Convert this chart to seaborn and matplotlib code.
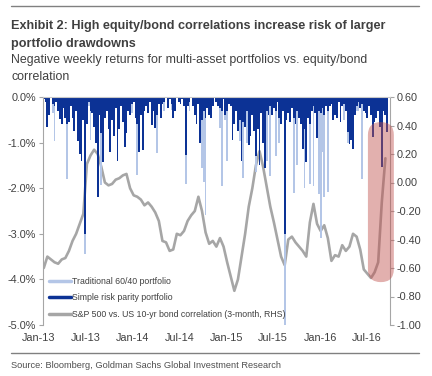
import pandas as pd
import matplotlib
matplotlib.use('Agg')
import matplotlib.pyplot as plt
import matplotlib.dates as mdates
from matplotlib.patches import FancyBboxPatch
from matplotlib.lines import Line2D
from matplotlib.ticker import FuncFormatter
from matplotlib.transforms import IdentityTransform, ScaledTranslation
import seaborn as sns

# weekly negative returns (%), positive weeks shown as 0
weeks = pd.date_range('2013-01-04', periods=192, freq='7D')
trad_6040 = [
    0.00, -0.05, -0.30, -0.20, 0.00, -0.35, -0.96, 0.00, -0.15, -0.25, -0.30, -0.10,
    -0.20, -1.80, -0.25, -0.10, -0.30, -0.35, -0.15, -0.40, -0.55, -0.60, -0.30, -3.45,
    -0.25, -0.20, -0.95, -0.15, -0.30, -0.45, -0.90, -0.20, -1.93, -0.60, -0.20, -0.10,
    -0.35, -0.50, -0.20, -0.35, -0.10, -0.60, -0.30, -0.15, -0.25, -0.45, -0.30, -0.10,
    -0.15, -0.35, -0.05, -0.20, -1.71, -0.50, -0.15, -0.45, -0.10, -0.10, -0.15, 0.00,
    -0.25, -0.15, -0.30, -1.23, -0.05, -0.20, -0.05, -0.30, 0.00, -0.10, 0.00, -0.28,
    -0.20, -0.10, 0.00, -0.05, -0.05, 0.00, -0.10, -1.90, -0.10, -0.30, 0.00, -0.10,
    -0.15, -0.25, -0.05, -0.96, -1.56, -1.86, -2.59, -0.10, -0.15, -0.20, -0.05, 0.00,
    -0.05, -0.10, -0.68, -1.95, 0.00, -0.50, -1.40, -0.05, -0.10, -0.40, -0.25, -0.10,
    -0.30, -0.96, -0.60, -1.78, -0.30, -1.00, -0.45, -0.35, -0.15, -0.30, -1.65, -0.30,
    -0.60, -0.15, -0.40, -0.65, -1.40, -0.15, -1.73, -0.15, -0.10, -1.30, -0.05, -1.00,
    -0.25, -0.10, -5.00, -0.20, -0.15, -0.20, -0.10, -2.10, -0.25, -1.50, -0.20, -0.25,
    -0.50, -2.00, -0.60, -0.20, -1.90, -0.10, -1.95, -0.15, -0.35, -2.13, -3.10, -1.20,
    -2.20, -0.10, -2.08, -0.10, -0.05, -0.20, -0.15, -0.20, -0.05, -0.25, -0.10, -0.50,
    -0.10, -1.00, -0.40, -0.40, -0.45, -0.15, -0.30, -0.30, -0.10, -1.80, -0.10, -0.15,
    -0.20, -0.10, -0.15, -0.35, -0.20, -0.20, -0.10, -0.25, -0.60, -0.10, -0.15, -0.30,
]
risk_parity = [
    -0.05, -0.10, -0.66, -0.40, 0.00, -0.15, -0.20, -0.10, -0.30, -0.48, -0.60, -0.25,
    -0.45, -0.60, -0.55, -0.20, -0.45, -0.75, -0.30, -0.96, -1.25, -1.40, -0.50, -3.00,
    -0.60, -0.10, -0.30, -0.35, -0.66, -1.00, -2.20, -0.40, -0.80, -1.42, -0.45, -0.30,
    -0.70, -1.20, -0.50, -0.85, -0.25, -1.40, -0.70, -0.20, -0.55, -1.10, -0.80, -0.30,
    -0.40, -0.15, -0.10, -0.45, -0.60, -1.20, -0.40, -1.17, -0.30, -0.20, -0.35, -0.10,
    -0.61, -0.30, -0.68, -0.40, -0.15, -0.45, -0.15, -0.10, 0.00, -0.25, -0.05, -0.15,
    -0.46, -0.30, 0.00, -0.10, -0.15, -0.05, -0.20, -1.27, -0.20, -0.10, 0.00, -0.20,
    -0.40, -0.60, -0.15, -1.00, -0.50, -0.30, -0.45, -0.25, -0.40, -0.46, -0.20, 0.00,
    -0.10, -0.20, -0.25, -0.30, -0.05, -0.40, -0.30, -0.15, -0.20, -0.95, -0.60, -0.30,
    -0.75, -0.50, -1.40, -0.55, -0.65, -0.30, -1.05, -0.85, -0.40, -0.75, -1.30, -0.70,
    -1.49, -0.35, -1.00, -1.56, -0.30, -0.40, -0.20, -0.40, -0.25, -0.30, -0.10, -0.45,
    -0.60, -0.30, -3.00, -0.50, -0.35, -0.55, -0.25, -0.45, -0.60, -0.30, -0.45, -0.60,
    -1.13, -0.70, -1.42, -0.45, -0.60, -0.30, -0.20, -0.35, -0.90, -0.30, -0.35, -0.25,
    -0.40, -0.20, -0.30, -0.20, -0.15, -0.50, -0.40, -0.45, -0.10, -0.55, -0.20, -0.15,
    -0.30, -0.76, -1.03, -0.94, -1.14, -0.40, -0.20, -0.10, -0.25, -0.15, -0.30, -0.35,
    -0.45, -0.20, -0.40, -0.87, -0.55, -0.45, -0.30, -0.65, -1.53, -0.30, -0.40, -0.76,
]

# S&P 500 vs US 10-yr bond correlation (3-month), read every two weeks
corr_dates = pd.date_range('2013-01-04', periods=96, freq='14D')
corr_3m = [
    -0.60, -0.52, -0.54, -0.56, -0.57, -0.54, -0.53, -0.48, -0.41, -0.36, -0.29, -0.22,
    0.13, 0.19, 0.23, 0.20, 0.11, 0.00, -0.02, -0.01, 0.02, 0.03, 0.05, 0.06,
    -0.04, -0.09, -0.10, -0.12, -0.16, -0.14, -0.17, -0.21, -0.27, -0.41, -0.42, -0.48,
    -0.47, -0.36, -0.37, -0.34, -0.27, -0.23, -0.20, -0.10, -0.20, -0.35, -0.43, -0.41,
    -0.45, -0.39, -0.45, -0.56, -0.66, -0.76, -0.68, -0.52, -0.36, -0.17, -0.04, 0.12,
    0.22, 0.11, -0.03, -0.17, -0.28, -0.40, -0.52, -0.58, -0.40, -0.38, -0.42, -0.45,
    -0.48, -0.52, -0.28, -0.15, -0.29, -0.34, -0.30, -0.39, -0.55, -0.51, -0.52, -0.44,
    -0.48, -0.45, -0.36, -0.38, -0.47, -0.61, -0.64, -0.67, -0.63, -0.56, -0.14, 0.17,
]

left_ticks = [0, -1, -2, -3, -4, -5]
right_ticks = [0.6, 0.4, 0.2, 0.0, -0.2, -0.4, -0.6, -0.8, -1.0]
labels = ['Traditional 60/40 portfolio', 'Simple risk parity portfolio',
          'S&P 500 vs. US 10-yr bond correlation (3-month, RHS)']

LIGHT = '#b4c6e7'
DARK = '#0c3295'
GREY = '#a6a6a6'
TXT = '#404040'

sns.set_style('white')
plt.rcParams['font.family'] = ['Liberation Sans', 'DejaVu Sans']

fig = plt.figure(figsize=(4.32, 3.76), dpi=100)
fig.subplots_adjust(left=43/432, right=390/432, bottom=1-325/376, top=1-97/376)
ax = fig.add_subplot(111)
ax2 = ax.twinx()


def fit_width(txt, target_px):
    # scale a text so that it spans the given width in pixels
    fig.canvas.draw()
    w = txt.get_window_extent(fig.canvas.get_renderer()).width
    txt.set_fontsize(txt.get_fontsize() * target_px / w)
    return txt.get_fontsize()


# correlation line on the right axis, drawn behind the bars
sns.lineplot(x=corr_dates, y=corr_3m, ax=ax2, color=GREY, linewidth=1.9, legend=False)

ax.bar(weeks, trad_6040, width=7, color=LIGHT, linewidth=0)
ax.bar(weeks, risk_parity, width=7, color=DARK, linewidth=0)

ax.set_zorder(ax2.get_zorder() + 1)
ax.patch.set_visible(False)

ax.set_xlim(pd.Timestamp('2013-01-01'), pd.Timestamp('2016-09-13'))
ax.set_ylim(-5, 0)
ax2.set_ylim(-1, 0.6)
ax.set_yticks(left_ticks)
ax2.set_yticks(right_ticks)
ax.yaxis.set_major_formatter(FuncFormatter(lambda v, p: f'{v:.1f}%'))
ax2.yaxis.set_major_formatter(FuncFormatter(lambda v, p: f'{v:.2f}'))
ax.xaxis.set_major_locator(mdates.MonthLocator(bymonth=[1, 7]))
ax.xaxis.set_major_formatter(mdates.DateFormatter('%b-%y'))
ax.set_xlabel('')
ax2.set_ylabel('')

for a in (ax, ax2):
    for s in a.spines.values():
        s.set_visible(False)
ax.spines['left'].set_visible(True)
ax.spines['left'].set_color(GREY)
ax.spines['top'].set_visible(True)
ax.spines['top'].set_color('#c8c8c8')
ax2.spines['right'].set_visible(True)
ax2.spines['right'].set_color(GREY)

ax.tick_params(axis='y', length=3, color=GREY, labelsize=7.8, labelcolor=TXT, pad=2, left=True)
ax2.tick_params(axis='y', length=3, color=GREY, labelsize=7.8, labelcolor=TXT, pad=2, right=True)
ax.tick_params(axis='x', length=0, labelsize=7.8, labelcolor=TXT, pad=6)
# month labels sit a little left of their dates in the original
shift = ScaledTranslation(-4/100, 0, fig.dpi_scale_trans)
for lab in ax.get_xticklabels():
    lab.set_transform(lab.get_transform() + shift)

# legend text size chosen so the longest label spans like the reference
probe = fig.text(0, 0, labels[2], fontsize=8)
leg_size = fit_width(probe, 215)
probe.remove()

handles = [Line2D([], [], color=LIGHT, lw=2.5),
           Line2D([], [], color=DARK, lw=2.5),
           Line2D([], [], color=GREY, lw=2.5)]
ax.legend(handles, labels, loc='lower left', bbox_to_anchor=(0.0, 0.0), frameon=False,
          fontsize=leg_size, handlelength=2.5, handletextpad=0.15, labelspacing=0.85,
          borderaxespad=0.3, labelcolor=TXT)

# highlight on the latest spike
x0, y0 = ax.transData.transform((mdates.date2num(pd.Timestamp('2016-06-19')), -4.06))
x1, y1 = ax.transData.transform((mdates.date2num(pd.Timestamp('2016-09-28')), -0.55))
pill = FancyBboxPatch((x0, y0), x1 - x0, y1 - y0,
                      boxstyle=f'round,pad=0,rounding_size={(x1 - x0) / 2}',
                      transform=IdentityTransform(), facecolor='#c0504d', alpha=0.45,
                      edgecolor='none', zorder=10)
fig.add_artist(pill)

# header / footer
fig.add_artist(Line2D([11/432, 419/432], [1-6/376]*2, color='#808080', lw=1))
t1 = fig.text(11/432, 1-25.5/376, 'Exhibit 2: High equity/bond correlations increase risk of larger',
              fontsize=10.5, fontweight='bold', color=TXT, va='center')
title_size = fit_width(t1, 377)
fig.text(11/432, 1-44/376, 'portfolio drawdowns',
         fontsize=title_size, fontweight='bold', color=TXT, va='center')
s1 = fig.text(11/432, 1-59.5/376, 'Negative weekly returns for multi-asset portfolios vs. equity/bond',
              fontsize=10.5, color=TXT, va='center')
sub_size = fit_width(s1, 359)
fig.text(11/432, 1-77.5/376, 'correlation', fontsize=sub_size, color=TXT, va='center')
fig.add_artist(Line2D([11/432, 419/432], [1-353/376]*2, color='#808080', lw=1))
src = fig.text(11/432, 1-365.5/376, 'Source: Bloomberg, Goldman Sachs Global Investment Research',
               fontsize=8.5, color='#505050', va='center')
fit_width(src, 271)

fig.savefig('out.png', dpi=100, facecolor='white')
